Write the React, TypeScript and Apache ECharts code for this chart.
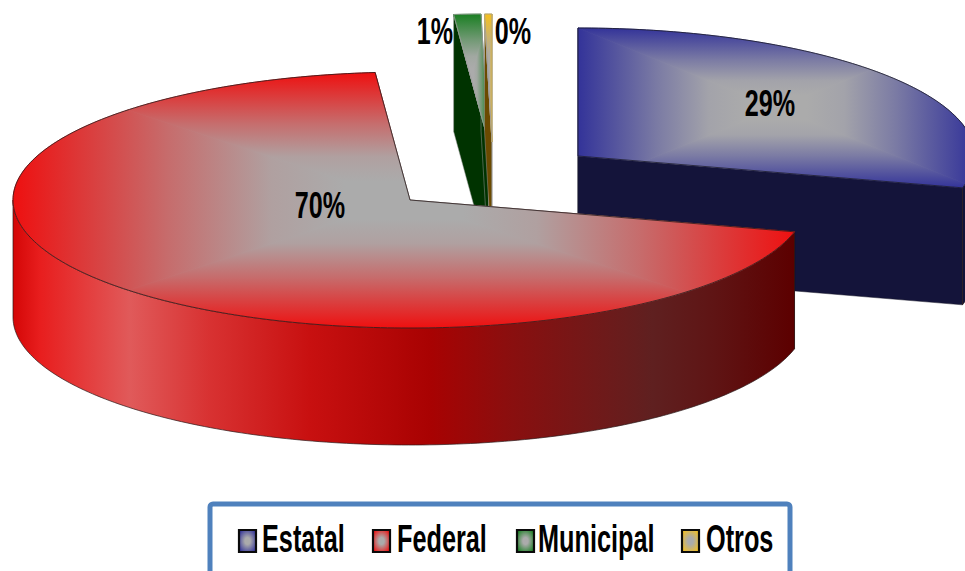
import React, { useEffect, useRef } from "react";
import * as echarts from "echarts";

const categories = ["Estatal", "Federal", "Municipal", "Otros"];
const sliceValues = [29.0, 69.6, 1.1, 0.3];

const faceColors = ["#333399", "#EE1010", "#1A7F22", "#F5C01E"];
const wallColors = ["#14143A", "#5E0000", "#003300", "#6B4A00"];
const outlineColors = ["#1a1a2a", "#2a1a1a", "#9a9a9a", "#9a9a9a"];
const CENTER_GREY = "#ABABAB";
const federalWallStops = [
  [0, "#D40606"], [0.035, "#E81E1E"], [0.15, "#E05A5A"], [0.25, "#D83232"],
  [0.38, "#C81010"], [0.535, "#A80202"], [0.63, "#8C0E0E"], [0.82, "#5F2020"],
  [0.9, "#5F1414"], [1, "#5C0000"],
];

// layout of the exploded slices, in pixels
const RX = 397, RY = 128, DEPTH = 117;
const sliceCentres = [[578, 156], [410, 200], [488.5, 142], [492, 142]];
const labelCentres = [[770, 103], [320, 205], [435, 31], [513, 31]];
const drawOrder = [0, 2, 3, 1];
const legendIcons = [239, 373, 517, 682];
const legendTexts = [262, 397, 538, 706];
// position along the gradient -> share of grey mixed into the slice colour
const faceRamp = [[0, 0], [0.4, 0.6], [0.66, 0.93], [0.85, 1], [1, 1]];

type Pt = number[];
const total = sliceValues.reduce((a, b) => a + b, 0);
const startAngle = (i: number) => sliceValues.slice(0, i).reduce((a, b) => a + b, 0) / total * 360;

const mix = (hex: string, k: number) => {
  const ch = (h: string, s: number) => parseInt(h.slice(s, s + 2), 16);
  const m = (s: number) => Math.round(ch(hex, s) * (1 - k) + ch(CENTER_GREY, s) * k);
  return `rgb(${m(1)},${m(3)},${m(5)})`;
};

const rim = (c: Pt, deg: number, dy = 0): Pt => {
  const r = (deg * Math.PI) / 180;
  return [c[0] + RX * Math.sin(r), c[1] - RY * Math.cos(r) + dy];
};
const arc = (c: Pt, a0: number, a1: number, dy = 0): Pt[] => {
  const out: Pt[] = [];
  const n = Math.max(2, Math.ceil(Math.abs(a1 - a0)));
  for (let k = 0; k <= n; k++) out.push(rim(c, a0 + ((a1 - a0) * k) / n, dy));
  return out;
};
const clipHalf = (poly: Pt[], a: Pt, b: Pt, inside: Pt): Pt[] => {
  const side = (p: Pt) => (b[0] - a[0]) * (p[1] - a[1]) - (b[1] - a[1]) * (p[0] - a[0]);
  const sign = Math.sign(side(inside));
  const out: Pt[] = [];
  for (let i = 0; i < poly.length; i++) {
    const p = poly[i], q = poly[(i + 1) % poly.length];
    const sp = side(p) * sign, sq = side(q) * sign;
    if (sp >= 0) out.push(p);
    if (sp * sq < 0) {
      const t = sp / (sp - sq);
      out.push([p[0] + (q[0] - p[0]) * t, p[1] + (q[1] - p[1]) * t]);
    }
  }
  return out;
};
const clipTri = (poly: Pt[], t: Pt[]): Pt[] => {
  let out = poly;
  for (let i = 0; i < 3 && out.length; i++) out = clipHalf(out, t[i], t[(i + 1) % 3], t[(i + 2) % 3]);
  return out;
};

function renderSlice(index: number, api: any) {
  const value = api.value(0);
  const a0 = startAngle(index);
  const a1 = a0 + (value / total) * 360;
  const c = sliceCentres[index];
  const children: any[] = [];
  const wall = wallColors[index];
  const line = outlineColors[index];

  // cut faces
  for (const a of [a0, a1]) {
    const p = rim(c, a);
    children.push({
      type: "polygon",
      shape: { points: [c, p, [p[0], p[1] + DEPTH], [c[0], c[1] + DEPTH]] },
      style: { fill: wall, stroke: line, lineWidth: 0.5 },
    });
  }
  // outer wall: only the part of the rim that faces the viewer
  const w0 = Math.max(a0, 90), w1 = Math.min(a1, 270);
  if (w1 > w0) {
    const pts = [...arc(c, w0, w1), ...arc(c, w1, w0, DEPTH)];
    const fill = index === 1
      ? new echarts.graphic.LinearGradient(13, 0, 793, 0,
          federalWallStops.map(([offset, color]) => ({ offset, color })) as any, true)
      : wall;
    children.push({ type: "polygon", shape: { points: pts }, style: { fill, stroke: "#2a1a1a", lineWidth: 0.7 } });
  }
  // top face with a rectangular path gradient
  const face: Pt[] = [c, ...arc(c, a0, a1)];
  const xs = face.map((p) => p[0]), ys = face.map((p) => p[1]);
  const l = Math.min(...xs), r = Math.max(...xs), t = Math.min(...ys), b = Math.max(...ys);
  const mx = (l + r) / 2, my = (t + b) / 2;
  const base = faceColors[index];
  children.push({ type: "polygon", shape: { points: face }, style: { fill: CENTER_GREY } });
  const stops = faceRamp.map(([offset, k]) => ({ offset, color: mix(base, k) }));
  const grad = (x0: number, y0: number, x1: number, y1: number) =>
    new echarts.graphic.LinearGradient(x0, y0, x1, y1, stops, true);
  const parts: [Pt[], any][] = [
    [[[l, t], [r, t], [mx, my]], grad(0, t, 0, my)],
    [[[l, b], [r, b], [mx, my]], grad(0, b, 0, my)],
    [[[l, t], [l, b], [mx, my]], grad(l, 0, mx, 0)],
    [[[r, t], [r, b], [mx, my]], grad(r, 0, mx, 0)],
  ];
  for (const [tri, fill] of parts) {
    const pts = clipTri(face, tri);
    if (pts.length > 2) {
      children.push({ type: "polygon", shape: { points: pts }, style: { fill, stroke: fill, lineWidth: 0.8 } });
    }
  }
  children.push({
    type: "polygon",
    shape: { points: face },
    style: { fill: "none", stroke: line, lineWidth: 0.8 },
  });
  // percentage label
  const lc = labelCentres[index];
  children.push({
    type: "text",
    x: lc[0],
    y: lc[1],
    scaleX: 0.68,
    z2: 10,
    style: {
      text: `${Math.round((value / total) * 100)}%`,
      fontFamily: "Liberation Sans",
      fontWeight: "bold",
      fontSize: 37,
      fill: "#000",
      align: "center",
      verticalAlign: "middle",
    },
  });
  return { type: "group", children };
}

export default function App() {
  const ref = useRef<HTMLDivElement>(null);
  useEffect(() => {
    const chart = echarts.init(ref.current!, undefined, { renderer: "svg" });
    const legend: any[] = [
      {
        type: "rect",
        shape: { x: 210, y: 504, width: 580, height: 90, r: 3 },
        style: { fill: "#fff", stroke: "#4F81BD", lineWidth: 5 },
      },
    ];
    categories.forEach((name, i) => {
      const x = legendIcons[i];
      legend.push({
        type: "rect",
        shape: { x, y: 530, width: 17, height: 22 },
        style: {
          fill: new echarts.graphic.RadialGradient(0.5, 0.5, 0.62, [
            { offset: 0, color: CENTER_GREY },
            { offset: 0.25, color: CENTER_GREY },
            { offset: 1, color: faceColors[i] },
          ]),
          stroke: "#0a0a0a",
          lineWidth: 2.2,
        },
      });
      legend.push({
        type: "text",
        x: legendTexts[i],
        y: 539.5,
        scaleX: 0.665,
        style: {
          text: name,
          fontFamily: "Liberation Sans",
          fontWeight: "bold",
          fontSize: 38,
          fill: "#000",
          align: "left",
          verticalAlign: "middle",
        },
      });
    });
    chart.setOption({
      animation: false,
      backgroundColor: "#fff",
      graphic: { elements: legend },
      series: drawOrder.map((i) => ({
        type: "custom",
        name: categories[i],
        coordinateSystem: "none",
        silent: true,
        data: [[sliceValues[i]]],
        renderItem: (_p: any, api: any) => renderSlice(i, api),
      })),
    });
    return () => chart.dispose();
  }, []);
  return <div ref={ref} style={{ position: "fixed", left: 0, top: 0, width: 965, height: 571 }} />;
}
